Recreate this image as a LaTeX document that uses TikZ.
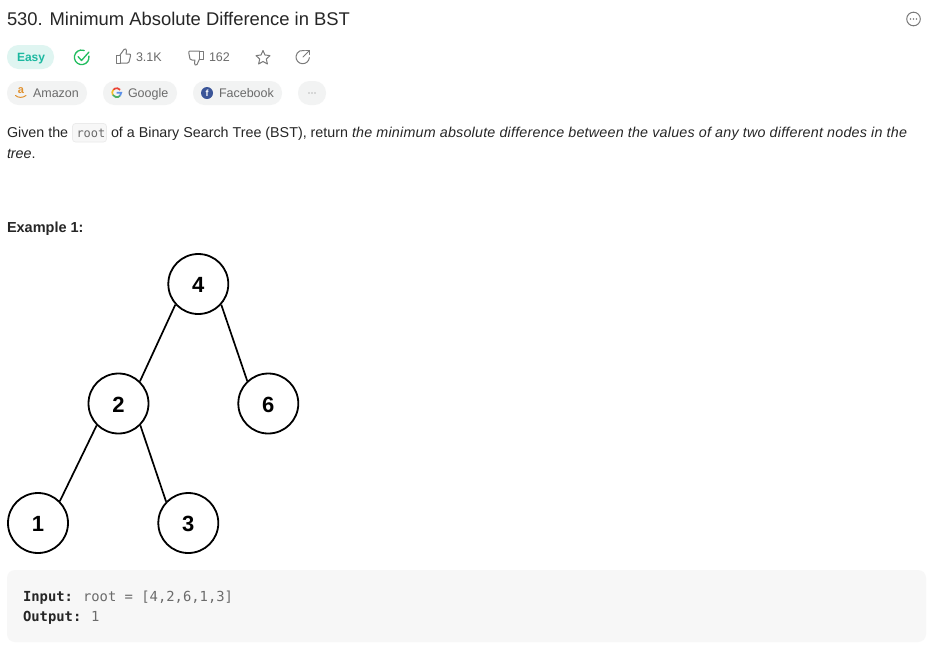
\documentclass[tikz,border=0pt]{standalone}
\usepackage{fontspec}
\setmainfont{Liberation Sans}
\newfontfamily\monof{DejaVu Sans Mono}
\newcommand{\fs}[1]{\fontsize{#1}{#1}\selectfont}
\newcommand{\dg}[1]{\raisebox{-1pt}[\height][\depth]{#1}}
\definecolor{ink}{HTML}{262626}
\definecolor{muted}{HTML}{6B6B6B}
\definecolor{pill}{HTML}{F2F3F3}
\definecolor{teal}{HTML}{DFF5F1}
\definecolor{tealtx}{HTML}{1CB8A0}
\definecolor{grn}{HTML}{22BD5F}
\definecolor{icon}{HTML}{7A7A7A}
\definecolor{codebg}{HTML}{F7F7F7}
\definecolor{fb}{HTML}{3B5598}
\definecolor{amz}{HTML}{E0912F}
\definecolor{gred}{HTML}{EA4335}
\definecolor{gyel}{HTML}{F5BC2A}
\definecolor{ggrn}{HTML}{4CAF63}
\definecolor{gblu}{HTML}{5A8FE8}
\tikzset{
  x=1pt,y=-1pt,
  txt/.style={anchor=base west,inner sep=0pt,outer sep=0pt,text=ink,font=\fs{14.3}},
  small/.style={anchor=base west,inner sep=0pt,outer sep=0pt,text=muted,font=\fs{12.5}},
  code/.style={anchor=base west,inner sep=0pt,outer sep=0pt,text=muted,font=\monof\fs{13.85}},
  pillbox/.style={fill=pill,draw=none,rounded corners=11.5pt},
  ic/.style={draw=icon,line width=1pt,line join=round,line cap=round,fill=none},
  tree/.style={circle,draw=black,line width=1.8pt,fill=white,minimum size=60pt,inner sep=0pt,font=\bfseries\fs{22},text=black},
  edge/.style={draw=black,line width=1.7pt}
}
\begin{document}
\begin{tikzpicture}
\useasboundingbox[fill=white] (0,0) rectangle (941,662);
% title
\node[txt,font=\fs{18.4}] (title) at (7,25) {530. Minimum Absolute Difference in BST};
% info icon
\draw[ic] (913.5,19) circle (6.8);
\foreach \d in {-3,0,3} \fill[icon] (913.5+\d,19) circle (0.8);
% difficulty
\fill[teal,rounded corners=11.5pt] (7,45) rectangle (54,69);
\node[txt,text=tealtx,font=\bfseries\fs{12}] (easy) at (17,61) {Easy};
\draw[grn,line width=1.3pt,line cap=round] (81.7,57.3) ++(-10:7.3) arc (-10:290:7.3);
\draw[grn,line width=1.3pt,line cap=round,line join=round] (78,56.5) -- (81.5,60.5) -- (89,52);
% like
\draw[ic] (116,55) -- (120,55) -- (120,63) -- (116,63) -- cycle;
\draw[ic] (120,55) -- (124,49.5) .. controls (125,48) and (127,49) .. (126.5,51) -- (126,54) -- (129.5,54) .. controls (130.5,54) and (130.8,55) .. (130.5,56) -- (129,62) .. controls (128.7,63) and (128,63) .. (127.5,63) -- (120,63);
\node[small] (likes) at (136,61) {3.1K};
% dislike
\draw[ic] (203,59) -- (199.5,59) -- (199.5,51) -- (203,51) -- cycle;
\draw[ic] (199.5,51) -- (190,51) .. controls (189,51) and (188.6,52) .. (188.8,53) -- (190,59) .. controls (190.3,60) and (191,60) .. (192,60) -- (195,60) -- (194.5,63) .. controls (194,65) and (196,66) .. (197,64.5) -- (199.5,59);
\node[small] (dislikes) at (209,61) {162};
% star
\draw[ic] (263,50.5) -- (265,55) -- (270,55.6) -- (266.3,59) -- (267.4,64) -- (263,61.5) -- (258.6,64) -- (259.7,59) -- (256,55.6) -- (261,55) -- cycle;
% share
\draw[ic] (302.7,57) ++(5:6.7) arc (5:285:6.7);
\draw[ic] (303,57) -- (309.5,50.5);
\draw[ic] (305.5,50.5) -- (309.5,50.5) -- (309.5,54.5);
% company pills
\fill[pill,rounded corners=11.5pt] (7,81) rectangle (87,105);
\node[small] (amazon) at (33,97) {Amazon};
\node[font=\bfseries\fs{11},text=amz,inner sep=0pt] (aza) at (21,90.5) {a};
\draw[amz,line width=1pt,line cap=round] (15.5,95.5) .. controls (18,98) and (23,98) .. (26,95.5);
\fill[pill,rounded corners=11.5pt] (103,81) rectangle (177,105);
\node[small] (google) at (128,97) {Google};
\draw[gred,line width=1.7pt] (116.7,92.7) ++(220:4.5) arc (220:320:4.5);
\draw[gyel,line width=1.7pt] (116.7,92.7) ++(150:4.5) arc (150:220:4.5);
\draw[ggrn,line width=1.7pt] (116.7,92.7) ++(40:4.5) arc (40:150:4.5);
\draw[gblu,line width=1.7pt] (116.7,92.7) -- (121.2,92.7) arc (0:40:4.5);
\fill[pill,rounded corners=11.5pt] (193,81) rectangle (282,105);
\fill[fb] (207,93) circle (6);
\node[font=\bfseries\fs{9},text=white,inner sep=0pt] (ff) at (207,93.5) {f};
\node[small] (facebook) at (219,97) {Facebook};
\fill[pill,rounded corners=11.5pt] (298,81) rectangle (326,105);
\foreach \d in {-3,0,3} \fill[icon] (312+\d,93) circle (0.6);
% paragraph
\node[txt] (given) at (7,137) {Given the};
\filldraw[draw=black!8,fill=black!3,rounded corners=3pt,line width=0.7pt] (72.5,123.5) rectangle (106.5,142);
\node[txt,font=\monof\fs{12},text=muted] (rootw) at (76.5,137) {root};
\node[txt] (ofa) at (111,137) {of a Binary Search Tree (BST), return};
\node[txt,font=\itshape\fs{14.3}\addfontfeatures{LetterSpace=1.45}] (ital) at (352,137) {the minimum absolute difference between the values of any two different nodes in the};
\node[txt] (tree2) at (7,158) {\textit{tree}.};
\node[txt,font=\bfseries\fs{14.5}] (ex) at (7,232) {Example 1:};
% tree
\node[tree] (n4) at (198.3,284) {\dg{4}};
\node[tree] (n2) at (118.5,403.5) {\dg{2}};
\node[tree] (n6) at (268.3,403.5) {\dg{6}};
\node[tree] (n1) at (38,523) {\dg{1}};
\node[tree] (n3) at (188.3,523) {\dg{3}};
\draw[edge] (n4.222) -- (n2.46);
\draw[edge] (n4.-42) -- (n6.133);
\draw[edge] (n2.225) -- (n1.45);
\draw[edge] (n2.-45) -- (n3.136);
% code block
\fill[codebg,rounded corners=8pt] (7,570) rectangle (926,642);
\node[code,font=\monof\bfseries\fs{13.85},text=ink] (inp) at (23,601) {Input:};
\node[code] (inv) at (83,601) {root = [4,2,6,1,3]};
\node[code,font=\monof\bfseries\fs{13.85},text=ink] (outp) at (23,621) {Output:};
\node[code] (outv) at (91,621) {1};
\end{tikzpicture}
\end{document}
